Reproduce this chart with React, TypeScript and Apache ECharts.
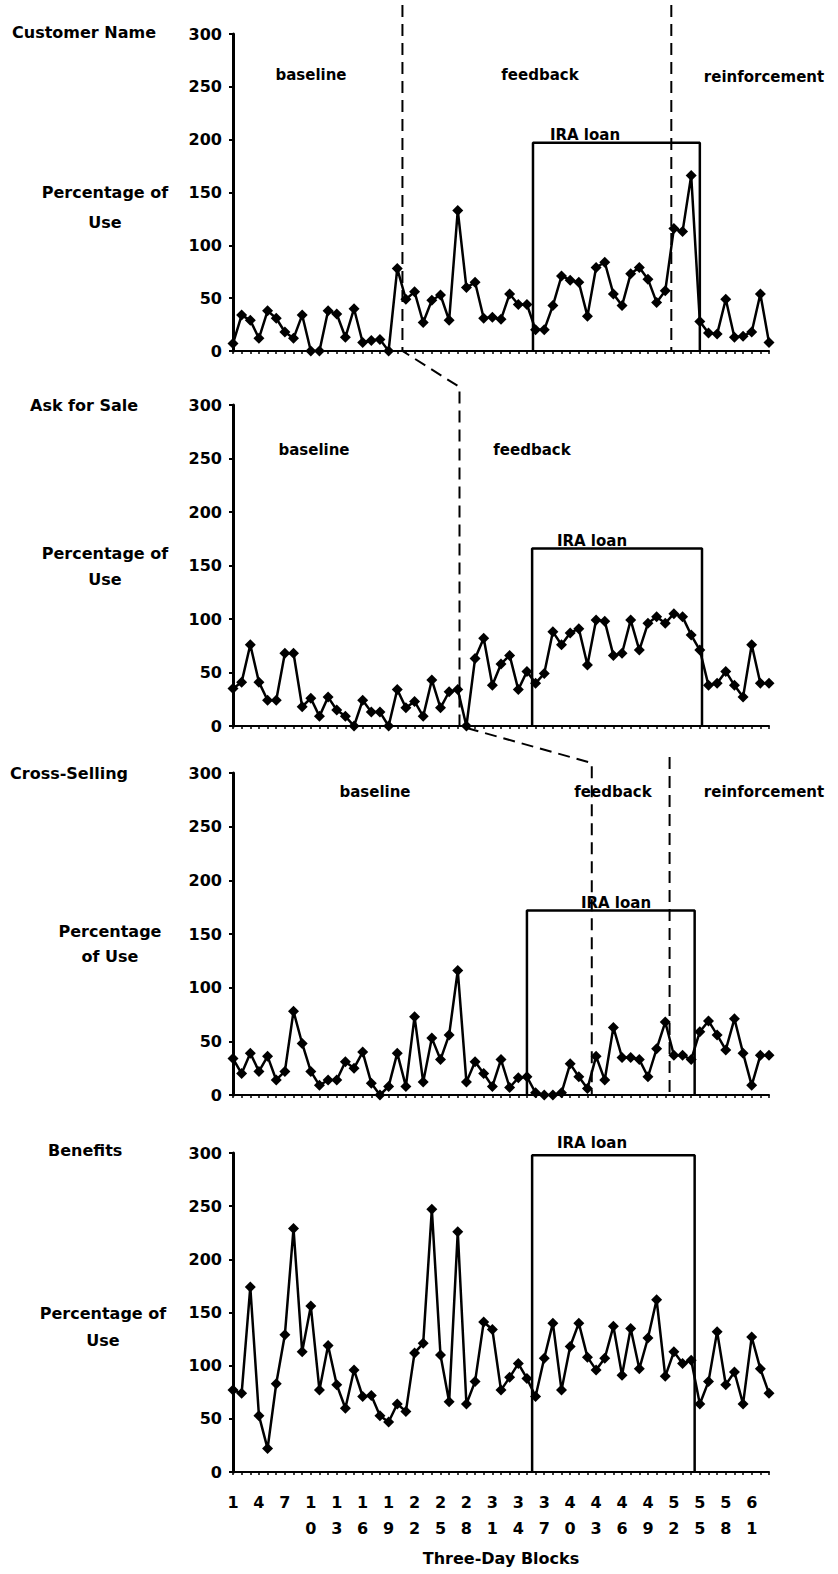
import React, { useEffect, useRef } from "react";
import * as echarts from "echarts";

// Three-day blocks 1..63
const customerName = [7,34,29,12,38,31,18,12,34,0, 0,38,35,13,40,8,10,11,0,78, 49,56,27,48,53,29,133,60,65,31, 32,30,54,44,44,20,20,43,71,67, 65,33,79,84,54,43,73,79,68,46, 57,116,113,166,28,17,16,49,13,14, 18,54,8];
const askForSale = [35,41,76,41,24,24,68,68,18,26, 9,27,15,9,0,24,13,13,0,34, 17,23,9,43,17,32,34,0,63,82, 38,58,66,34,51,40,49,88,76,87, 91,57,99,98,66,68,99,71,96,102, 96,105,102,85,71,38,40,51,38,27, 76,40,40];
const crossSelling = [34,20,39,22,36,14,22,78,48,22, 9,14,14,31,25,40,11,0,8,39, 8,73,12,53,33,56,116,12,31,20, 8,33,7,16,17,2,0,0,2,29, 17,6,36,14,63,35,35,33,17,43, 68,37,37,33,59,69,56,42,71,39, 9,37,37];
const benefits = [77,74,174,53,22,83,129,229,113,156, 77,119,82,60,96,71,72,53,47,64, 57,112,121,247,110,66,226,64,85,141, 134,77,89,102,88,71,107,140,77,118, 140,108,96,107,137,91,135,97,126,162, 90,113,102,105,64,85,132,82,94,64, 127,97,74];

const panelSeries = [customerName, askForSale, crossSelling, benefits];
const panelTitles = ["Customer Name", "Ask for Sale", "Cross-Selling", "Benefits"];

// IRA loan period (in block units) and box height per panel
const iraStart = [35.7, 35.6, 35.0, 35.6];
const iraEnd = [55.0, 55.25, 54.4, 54.4];
const iraTop = [197, 166, 172, 298];

// phase changes (in block units)
const feedbackStart = [20.6, 27.2, 42.5]; // panels 1..3
const reinforcementStart = [51.7, 51.5]; // panels 1 and 3

const yTicks = { min: 0, max: 300, interval: 50 };
const xRange = { min: 1, max: 63 };

const FONT = '"DejaVu Sans", sans-serif';

export default function App() {
  const ref = useRef<HTMLDivElement>(null);
  useEffect(() => {
    const chart = echarts.init(ref.current!, null, { renderer: "svg" });
    const grids = [
      { left: 233, width: 536, top: 34, height: 317 },
      { left: 233, width: 536, top: 405, height: 321 },
      { left: 233, width: 536, top: 773, height: 322 },
      { left: 233, width: 536, top: 1153, height: 319 },
    ];
    const xAxes = grids.map((_, i) => ({
      type: "value",
      gridIndex: i,
      min: xRange.min,
      max: xRange.max,
      interval: 1,
      splitLine: { show: false },
      axisLine: { show: true, lineStyle: { color: "#000", width: 2 } },
      axisTick: { show: true, length: 3, lineStyle: { color: "#000", width: 1.5 } },
      axisLabel: {
        show: i === 3,
        margin: 17,
        color: "#000",
        fontFamily: FONT,
        fontWeight: "bold",
        fontSize: 16,
        lineHeight: 26,
        formatter: (v: number) => ((v - 1) % 3 === 0 ? String(v).split("").join("\n") : ""),
      },
      name: i === 3 ? "Three-Day Blocks" : "",
      nameLocation: "middle",
      nameGap: 78,
      nameTextStyle: { color: "#000", fontFamily: FONT, fontWeight: "bold", fontSize: 16 },
    }));
    const yAxes = grids.map((_, i) => ({
      type: "value",
      gridIndex: i,
      min: yTicks.min,
      max: yTicks.max,
      interval: yTicks.interval,
      splitLine: { show: false },
      axisLine: { show: true, lineStyle: { color: "#000", width: 3 } },
      axisTick: { show: true, length: 4, lineStyle: { color: "#000", width: 2 } },
      axisLabel: { margin: 11, color: "#000", fontFamily: FONT, fontWeight: "bold", fontSize: 16 },
    }));
    const series: any[] = [];
    panelSeries.forEach((vals, i) => {
      series.push({
        type: "line",
        xAxisIndex: i,
        yAxisIndex: i,
        data: vals.map((v, k) => [k + 1, v]),
        symbol: "diamond",
        symbolSize: 11,
        itemStyle: { color: "#000" },
        lineStyle: { color: "#000", width: 2.5 },
        z: 3,
      });
      series.push({
        type: "line",
        xAxisIndex: i,
        yAxisIndex: i,
        data: [
          [iraStart[i], 0],
          [iraStart[i], iraTop[i]],
          [iraEnd[i], iraTop[i]],
          [iraEnd[i], 0],
        ],
        symbol: "none",
        silent: true,
        lineStyle: { color: "#000", width: 2.5 },
        z: 2,
      });
    });

    chart.setOption({
      animation: false,
      backgroundColor: "#fff",
      grid: grids,
      xAxis: xAxes,
      yAxis: yAxes,
      series,
    });

    const px = (g: number, x: number, y: number) =>
      chart.convertToPixel({ gridIndex: g }, [x, y]) as number[];

    const dashStyle = { stroke: "#000", lineWidth: 2, lineDash: [12, 7], fill: null };
    const a1 = px(0, feedbackStart[0], 0);
    const a2 = px(1, feedbackStart[1], 0);
    const a3 = px(2, feedbackStart[2], 0);
    const b1 = px(0, reinforcementStart[0], 0);
    const b3 = px(2, reinforcementStart[1], 0);

    const txt = (text: string, x: number, y: number, align = "center", size = 15) => ({
      type: "text",
      style: {
        text,
        x,
        y,
        fill: "#000",
        font: `bold ${size}px ${FONT}`,
        textAlign: align,
        textVerticalAlign: "middle",
      },
      z: 10,
    });

    const graphic: any[] = [
      {
        type: "polyline",
        shape: {
          points: [
            [a1[0], 5],
            [a1[0], a1[1]],
            [a2[0], 387],
            [a2[0], a2[1]],
            [a3[0], 763],
            [a3[0], a3[1]],
          ],
        },
        style: dashStyle,
        z: 5,
      },
      { type: "polyline", shape: { points: [[b1[0], 5], [b1[0], b1[1]]] }, style: dashStyle, z: 5 },
      { type: "polyline", shape: { points: [[b3[0], 757], [b3[0], b3[1]]] }, style: dashStyle, z: 5 },
      // panel titles
      txt(panelTitles[0], 12, 32, "left", 16),
      txt(panelTitles[1], 30, 405, "left", 16),
      txt(panelTitles[2], 10, 773, "left", 16),
      txt(panelTitles[3], 48, 1150, "left", 16),
      // y titles
      txt("Percentage of", 105, 192, "center", 16),
      txt("Use", 105, 222, "center", 16),
      txt("Percentage of", 105, 553, "center", 16),
      txt("Use", 105, 579, "center", 16),
      txt("Percentage", 110, 931, "center", 16),
      txt("of Use", 110, 956, "center", 16),
      txt("Percentage of", 103, 1313, "center", 16),
      txt("Use", 103, 1340, "center", 16),
      // phase labels
      txt("baseline", 311, 75),
      txt("feedback", 540, 75),
      txt("reinforcement", 764, 77),
      txt("baseline", 314, 450),
      txt("feedback", 532, 450),
      txt("baseline", 375, 792),
      txt("feedback", 613, 792),
      txt("reinforcement", 764, 792),
      // IRA loan labels
      txt("IRA loan", 585, 135),
      txt("IRA loan", 592, 541),
      txt("IRA loan", 616, 903),
      txt("IRA loan", 592, 1143),
    ];
    chart.setOption({ graphic });
    return () => chart.dispose();
  }, []);
  return (
    <div
      ref={ref}
      style={{ position: "absolute", left: 0, top: 0, width: 838, height: 1574, background: "#fff" }}
    />
  );
}
